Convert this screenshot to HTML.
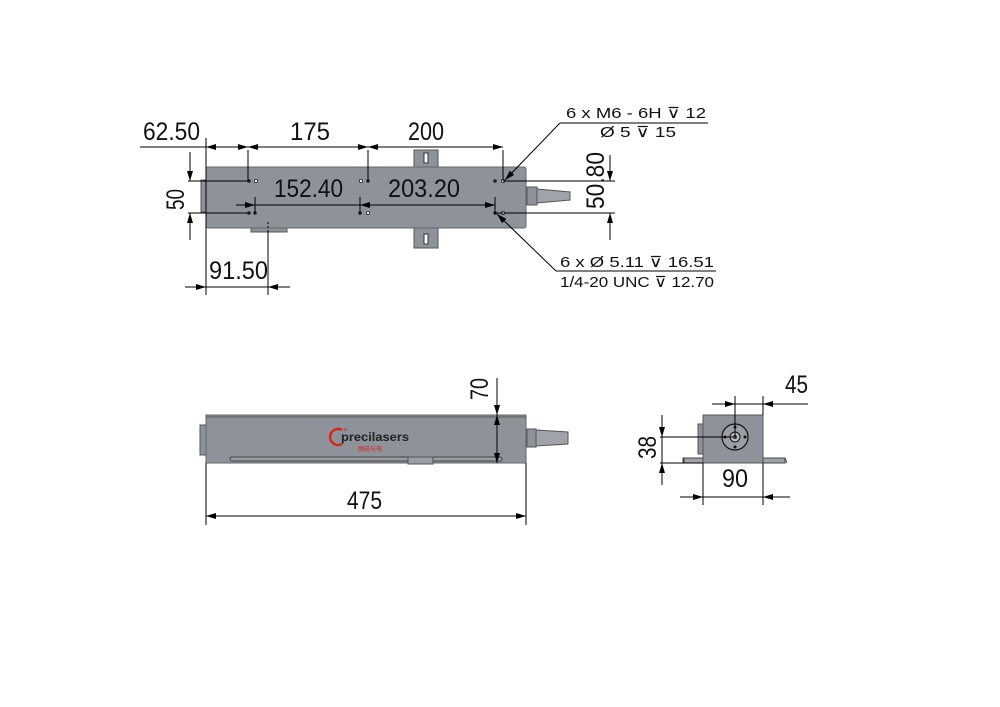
<!DOCTYPE html>
<html><head><meta charset="utf-8"><style>
html,body{margin:0;padding:0;background:#fff;}
svg{display:block}
.t{font-family:"Liberation Sans",sans-serif;fill:#111;}
</style></head><body>
<svg width="1000" height="707" viewBox="0 0 1000 707" xmlns="http://www.w3.org/2000/svg">
<defs>
<marker id="a" viewBox="0 0 10 6" refX="10" refY="3" markerWidth="10" markerHeight="6" orient="auto-start-reverse" markerUnits="userSpaceOnUse"><path d="M0,0 L10,3 L0,6 z" fill="#000"/></marker>
</defs>
<rect width="1000" height="707" fill="#fff"/>
<g stroke="#000" stroke-width="1" fill="none">
<!-- TOP VIEW -->
<rect x="414" y="150" width="24" height="17" fill="#8e929a" stroke="#555"/>
<rect x="424" y="153" width="4" height="10" fill="#fff" stroke="#333"/>
<rect x="414" y="228" width="24" height="20" fill="#8e929a" stroke="#555"/>
<rect x="424" y="234" width="4" height="10" fill="#fff" stroke="#333"/>
<rect x="201" y="180" width="5" height="32" fill="#8e929a" stroke="#555"/>
<rect x="251" y="227" width="36" height="5" fill="#8e929a" stroke="#555"/>
<rect x="206" y="167" width="320" height="61" rx="2" fill="#8e929a" stroke="#666"/>
<rect x="527" y="187" width="10" height="18" fill="#8e929a" stroke="#555"/>
<path d="M537 189 L570 192 L570 200 L537 203 Z" fill="#a0a4aa" stroke="#555"/>
<g fill="#222" stroke="none">
<circle cx="249" cy="181" r="1.8"/><circle cx="368" cy="181" r="1.8"/><circle cx="495" cy="181" r="1.8"/>
<circle cx="249" cy="213" r="1.8"/><circle cx="255" cy="213" r="1.8"/><circle cx="360" cy="213" r="1.8"/><circle cx="495" cy="213" r="1.8"/>
</g>
<g fill="#fff" stroke="#222" stroke-width="0.8">
<circle cx="256" cy="181" r="1.6"/><circle cx="361" cy="181" r="1.6"/><circle cx="503" cy="181" r="1.6"/>
<circle cx="368" cy="213" r="1.6"/><circle cx="503" cy="213" r="1.6"/>
</g>
<line x1="140" y1="147" x2="206" y2="147"/>
<line x1="206" y1="147" x2="248" y2="147" marker-start="url(#a)" marker-end="url(#a)"/>
<line x1="248" y1="147" x2="368" y2="147" marker-start="url(#a)" marker-end="url(#a)"/>
<line x1="368" y1="147" x2="503" y2="147" marker-start="url(#a)" marker-end="url(#a)"/>
<line x1="206" y1="138" x2="206" y2="295"/>
<line x1="248" y1="150" x2="248" y2="181"/>
<line x1="368" y1="150" x2="368" y2="181"/>
<line x1="503" y1="150" x2="503" y2="181"/>
<line x1="188" y1="181" x2="249" y2="181"/>
<line x1="188" y1="213" x2="249" y2="213"/>
<line x1="190" y1="152" x2="190" y2="181" marker-end="url(#a)"/>
<line x1="190" y1="213" x2="190" y2="240" marker-start="url(#a)"/>
<line x1="236" y1="205" x2="255" y2="205" marker-end="url(#a)"/>
<line x1="255" y1="205" x2="360" y2="205"/>
<line x1="360" y1="205" x2="495" y2="205" marker-start="url(#a)" marker-end="url(#a)"/>
<line x1="255" y1="197" x2="255" y2="214"/>
<line x1="360" y1="197" x2="360" y2="214"/>
<line x1="495" y1="197" x2="495" y2="214"/>
<line x1="503" y1="181" x2="615" y2="181"/>
<line x1="495" y1="213" x2="615" y2="213"/>
<line x1="610" y1="155" x2="610" y2="181" marker-end="url(#a)"/>
<line x1="610" y1="213" x2="610" y2="240" marker-start="url(#a)"/>
<line x1="268" y1="222" x2="268" y2="232" stroke-dasharray="2,2"/>
<line x1="268" y1="232" x2="268" y2="295"/>
<line x1="185" y1="287" x2="206" y2="287" marker-end="url(#a)"/>
<line x1="268" y1="287" x2="290" y2="287" marker-start="url(#a)"/>
<line x1="206" y1="287" x2="268" y2="287"/>
<line x1="560" y1="123" x2="505" y2="180" marker-end="url(#a)"/>
<line x1="560" y1="123" x2="708" y2="123"/>
<line x1="556" y1="271" x2="497" y2="214" marker-end="url(#a)"/>
<line x1="556" y1="271" x2="716" y2="271"/>
<!-- SIDE VIEW -->
<rect x="200" y="425" width="6" height="30" fill="#8e929a" stroke="#555"/>
<rect x="206" y="415" width="320" height="48" fill="#8e929a" stroke="#666"/>
<line x1="206" y1="417" x2="526" y2="417" stroke="#555"/>
<rect x="230" y="457" width="272" height="4" rx="2" fill="#9a9ea5" stroke="#444"/>
<rect x="408" y="457" width="25" height="7" fill="#9a9ea5" stroke="#555"/>
<rect x="527" y="429" width="9" height="18" fill="#8e929a" stroke="#555"/>
<path d="M536 430 L568 432 L568 444 L536 446 Z" fill="#a0a4aa" stroke="#555"/>
<line x1="497" y1="378" x2="497" y2="415" marker-end="url(#a)"/>
<line x1="497" y1="415" x2="497" y2="463" marker-start="url(#a)" marker-end="url(#a)"/>
<line x1="206" y1="463" x2="206" y2="525"/>
<line x1="526" y1="463" x2="526" y2="525"/>
<line x1="206" y1="516" x2="526" y2="516" marker-start="url(#a)" marker-end="url(#a)"/>
<path d="M342 430 A8 8 0 1 0 342 444" stroke="#d9261c" stroke-width="2.5"/>
<!-- END VIEW -->
<path d="M683 463 L683 458 L703 458 M683 463 L703 463" stroke="#444"/>
<rect x="684" y="458" width="19" height="5" fill="#a0a4aa" stroke="#444"/>
<rect x="763" y="458" width="22" height="5" fill="#a0a4aa" stroke="#444"/>
<line x1="785" y1="458" x2="787" y2="463" stroke="#444"/>
<rect x="698" y="424" width="5" height="30" fill="#8e929a" stroke="#555"/>
<rect x="703" y="415" width="60" height="48" fill="#8e929a" stroke="#555"/>
<circle cx="735" cy="437" r="13" fill="#9a9ea5" stroke="#111" stroke-width="1.2"/>
<circle cx="735" cy="437" r="5" fill="#bbb" stroke="#111"/>
<circle cx="735" cy="437" r="2" fill="#333" stroke="none"/>
<g fill="#111" stroke="none"><circle cx="735" cy="427" r="1.5"/><circle cx="735" cy="447" r="1.5"/><circle cx="745" cy="437" r="1.5"/><circle cx="725" cy="437" r="1.5"/></g>
<line x1="735" y1="396" x2="735" y2="437"/>
<line x1="763" y1="396" x2="763" y2="415"/>
<line x1="712" y1="404" x2="735" y2="404" marker-end="url(#a)"/>
<line x1="763" y1="404" x2="808" y2="404" marker-start="url(#a)"/>
<line x1="735" y1="404" x2="763" y2="404"/>
<line x1="660" y1="437" x2="733" y2="437"/>
<line x1="660" y1="463" x2="703" y2="463"/>
<line x1="662" y1="415" x2="662" y2="437" marker-end="url(#a)"/>
<line x1="662" y1="463" x2="662" y2="485" marker-start="url(#a)"/>
<line x1="662" y1="437" x2="662" y2="463"/>
<line x1="703" y1="463" x2="703" y2="505"/>
<line x1="763" y1="463" x2="763" y2="505"/>
<line x1="680" y1="497" x2="703" y2="497" marker-end="url(#a)"/>
<line x1="763" y1="497" x2="790" y2="497" marker-start="url(#a)"/>
<line x1="703" y1="497" x2="763" y2="497"/>
</g>
<g class="t" font-size="25">
<text x="143" y="140" textLength="57" lengthAdjust="spacingAndGlyphs">62.50</text>
<text x="290" y="140" textLength="40" lengthAdjust="spacingAndGlyphs">175</text>
<text x="408" y="140" textLength="36" lengthAdjust="spacingAndGlyphs">200</text>
<text x="274" y="197" textLength="69" lengthAdjust="spacingAndGlyphs">152.40</text>
<text x="388" y="197" textLength="72" lengthAdjust="spacingAndGlyphs">203.20</text>
<text x="209" y="279" textLength="59" lengthAdjust="spacingAndGlyphs">91.50</text>
<text transform="translate(184,210) rotate(-90)" textLength="21" lengthAdjust="spacingAndGlyphs">50</text>
<text transform="translate(604,209) rotate(-90)" textLength="57" lengthAdjust="spacingAndGlyphs">50.80</text>
<text x="347" y="509" textLength="35" lengthAdjust="spacingAndGlyphs">475</text>
<text transform="translate(488,400) rotate(-90)" textLength="22" lengthAdjust="spacingAndGlyphs">70</text>
<text x="785" y="393" textLength="23" lengthAdjust="spacingAndGlyphs">45</text>
<text x="722" y="487" textLength="26" lengthAdjust="spacingAndGlyphs">90</text>
<text transform="translate(656,459) rotate(-90)" textLength="23" lengthAdjust="spacingAndGlyphs">38</text>
</g>
<g class="t" font-size="15">
<text x="566" y="118" textLength="140" lengthAdjust="spacingAndGlyphs">6 x  M6 - 6H ⊽ 12</text>
<text x="600" y="137" textLength="76" lengthAdjust="spacingAndGlyphs">Ø 5 ⊽ 15</text>
<text x="560" y="267" textLength="154" lengthAdjust="spacingAndGlyphs">6 x Ø 5.11 ⊽ 16.51</text>
<text x="560" y="287" textLength="154" lengthAdjust="spacingAndGlyphs">1/4-20 UNC  ⊽ 12.70</text>
</g>
<g class="t">
<text x="341" y="441" font-size="12" font-weight="bold" fill="#222" textLength="68" lengthAdjust="spacingAndGlyphs">precilasers</text>
<text x="370" y="451" font-size="6" font-family="Noto Sans CJK SC,sans-serif" fill="#d9261c" text-anchor="middle">朗研光电</text>
<text x="343" y="432" font-size="8" fill="#d9261c">+</text>
</g>
</svg>
</body></html>
